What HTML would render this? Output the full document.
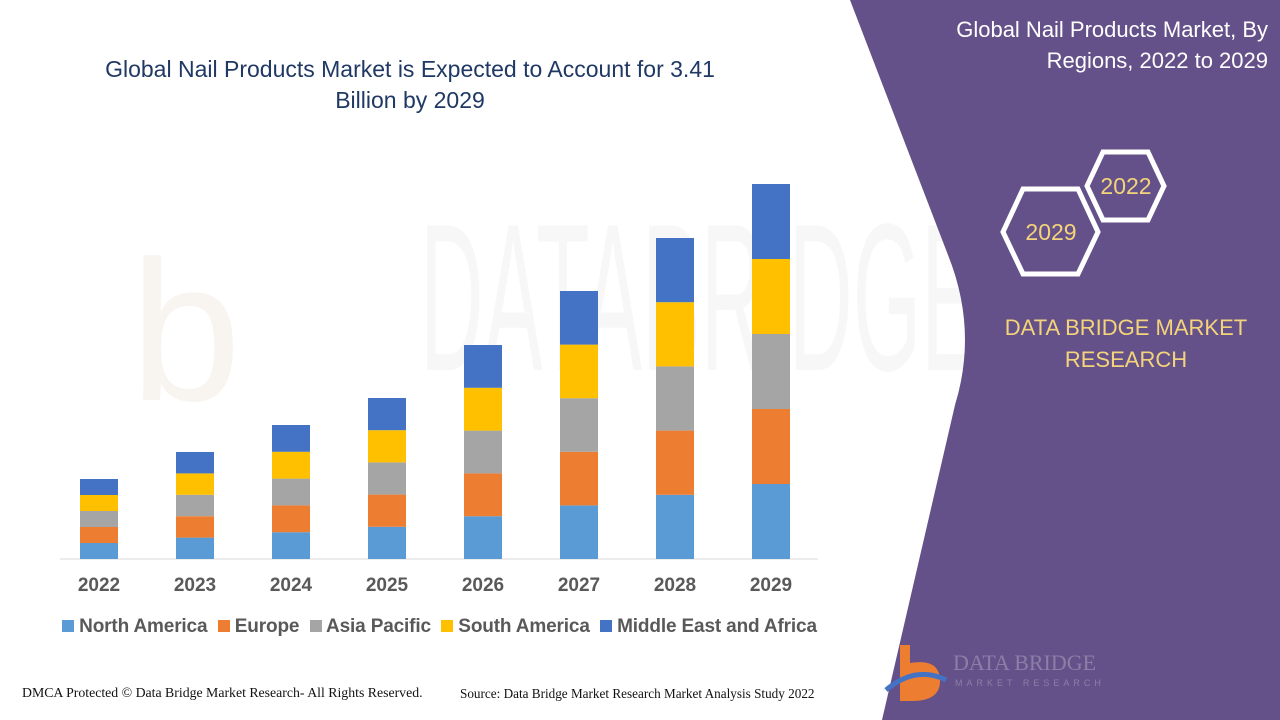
<!DOCTYPE html>
<html><head><meta charset="utf-8"><style>
body{margin:0;width:1280px;height:720px;overflow:hidden;background:#fff;font-family:"Liberation Sans",sans-serif;position:relative}
.t{position:absolute;white-space:nowrap}
</style></head><body>
<svg width="1280" height="720" style="position:absolute;left:0;top:0">
<text x="130" y="400" font-size="200" fill="#f8f4f0" font-family="Liberation Sans">b</text>
<text x="420" y="370" font-size="210" fill="#f7f7f8" font-family="Liberation Sans" textLength="560" lengthAdjust="spacingAndGlyphs">DATABRIDGE</text>
<path d="M850,0 L948,255 Q978,330 955,405 L882,720 L1280,720 L1280,0 Z" fill="#655189"/>
<g fill="none" stroke="#fff" stroke-width="5">
<polygon points="1103,152 1148,152 1164,186 1148,220 1103,220 1087,186"/>
<polygon points="1023,189 1078,189 1098,232 1078,274 1023,274 1003,232"/>
</g>
<text x="1126" y="194" font-size="23" fill="#f4d47a" text-anchor="middle" font-family="Liberation Sans">2022</text>
<text x="1051" y="240" font-size="23" fill="#f4d47a" text-anchor="middle" font-family="Liberation Sans">2029</text>
<line x1="60" y1="559" x2="818" y2="559" stroke="#d9d9d9" stroke-width="1"/>
<g id="bars"></g>
<path d="M900,645 l10,0 l0,18 q30,-5 30,18 q0,20 -28,20 l-12,0z" fill="#ed7d31"/>
<path d="M886,690 q30,-25 60,-10" stroke="#4472c4" stroke-width="5" fill="none"/>
<text x="953" y="670" font-size="22" fill="#8a7fa6" font-family="Liberation Serif">DATA BRIDGE</text>
<text x="955" y="686" font-size="9" fill="#8a7fa6" letter-spacing="4">MARKET RESEARCH</text>
</svg>
<div class="t" style="left:0;width:820px;top:54px;text-align:center;font-size:23px;line-height:31px;color:#1f3864">Global Nail Products Market is Expected to Account for 3.41<br>Billion by 2029</div>
<div class="t" style="right:12px;top:14px;text-align:right;font-size:22px;line-height:31px;color:#fff">Global Nail Products Market, By<br>Regions, 2022 to 2029</div>
<div class="t" style="left:1000px;width:252px;top:312px;text-align:center;font-size:22px;line-height:32px;color:#f4d47a">DATA BRIDGE MARKET<br>RESEARCH</div>
<div id="x"></div>
<div class="t" style="left:62px;top:616px;font-size:19px;font-weight:bold;color:#595959;letter-spacing:-0.15px">
<span style="display:inline-block;width:12px;height:12px;background:#5b9bd5"></span> North America &nbsp;<span style="display:inline-block;width:12px;height:12px;background:#ed7d31"></span> Europe &nbsp;<span style="display:inline-block;width:12px;height:12px;background:#a5a5a5"></span> Asia Pacific &nbsp;<span style="display:inline-block;width:12px;height:12px;background:#ffc000"></span> South America &nbsp;<span style="display:inline-block;width:12px;height:12px;background:#4472c4"></span> Middle East and Africa</div>
<div class="t" style="left:22px;top:685px;font-family:'Liberation Serif',serif;font-size:13.8px;color:#111">DMCA Protected © Data Bridge Market Research- All Rights Reserved.</div>
<div class="t" style="left:460px;top:686px;font-family:'Liberation Serif',serif;font-size:13.2px;color:#111">Source: Data Bridge Market Research Market Analysis Study 2022</div>
<script>
var tops=[479,452,425,398,345,291,238,184],cols=["#5b9bd5","#ed7d31","#a5a5a5","#ffc000","#4472c4"],s="",h="";
tops.forEach(function(t,i){var cx=99+i*96,seg=(559-t)/5;for(var k=0;k<5;k++){var y=559-(k+1)*seg;s+='<rect x="'+(cx-19)+'" y="'+y+'" width="38" height="'+seg+'" fill="'+cols[k]+'"/>';}
h+='<div class="t" style="left:'+(cx-30)+'px;width:60px;text-align:center;top:575px;font-size:19px;font-weight:bold;color:#595959">'+(2022+i)+'</div>';});
document.getElementById("bars").innerHTML=s;document.getElementById("x").innerHTML=h;
</script>
</body></html>
